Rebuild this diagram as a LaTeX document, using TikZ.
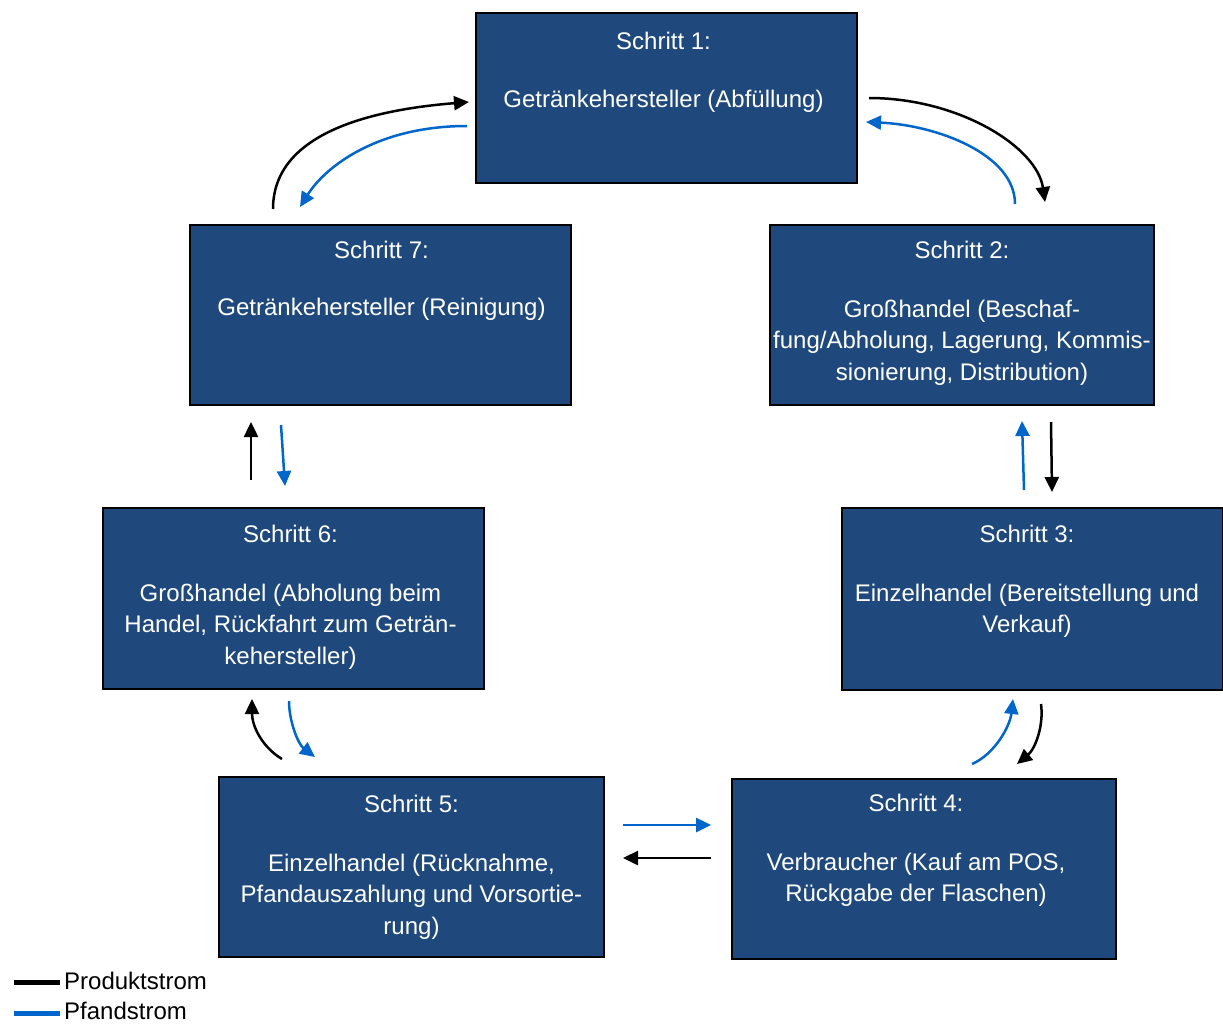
\documentclass[tikz,border=0pt]{standalone}
\usepackage{fontspec}
\setmainfont{Liberation Sans}
\usepackage{xcolor}
\usetikzlibrary{arrows.meta,positioning,calc}

\definecolor{boxblue}{RGB}{31,73,125}
\definecolor{pfandblue}{RGB}{0,102,204}

\begin{document}
\begin{tikzpicture}[
    x=1pt, y=-1pt,
    stepbox/.style={rectangle, draw=black, line width=2pt, fill=boxblue, inner sep=0pt},
    steptext/.style={align=center, text=white, inner sep=0pt, outer sep=0pt, font=\fontsize{24}{31.5}\selectfont},
    prod/.style={line width=2.5pt, draw=black, -{Triangle[length=15pt,width=14pt]}},
    pfand/.style={line width=2.5pt, draw=pfandblue, -{Triangle[length=15pt,width=14pt]}},
    legtext/.style={anchor=west, inner sep=0pt, font=\fontsize{24}{28}\selectfont}
  ]
    \useasboundingbox (0,0) rectangle (1223,1023);

    % Boxes
    \node[stepbox, minimum width=381pt, minimum height=170pt] (s1) at (666.5,98) {};
    \node[stepbox, minimum width=384pt, minimum height=180pt] (s2) at (962,315) {};
    \node[stepbox, minimum width=381pt, minimum height=182pt] (s3) at (1032,599) {};
    \node[stepbox, minimum width=384pt, minimum height=180pt] (s4) at (924,869) {};
    \node[stepbox, minimum width=385pt, minimum height=180pt] (s5) at (411.5,867) {};
    \node[stepbox, minimum width=381pt, minimum height=181pt] (s6) at (293.5,598.5) {};
    \node[stepbox, minimum width=381pt, minimum height=180pt] (s7) at (380.5,315) {};

    % Box texts
    \node[steptext, below=20pt of s1.north, xshift=-3pt] (t1) {Schritt 1:\\[26.5pt]Getränkehersteller (Abfüllung)};
    \node[steptext, below=17pt of s2.north] (t2) {Schritt 2:\\[27.5pt]Großhandel (Beschaf-\\fung/Abholung, Lagerung, Kommis-\\sionierung, Distribution)};
    \node[steptext, below=18pt of s3.north, xshift=-5pt] (t3) {Schritt 3:\\[27.5pt]Einzelhandel (Bereitstellung und\\Verkauf)};
    \node[steptext, below=16pt of s4.north, xshift=-8pt] (t4) {Schritt 4:\\[27.5pt]Verbraucher (Kauf am POS,\\Rückgabe der Flaschen)};
    \node[steptext, below=19pt of s5.north] (t5) {Schritt 5:\\[27.5pt]Einzelhandel (Rücknahme,\\Pfandauszahlung und Vorsortie-\\rung)};
    \node[steptext, below=18pt of s6.north, xshift=-3pt] (t6) {Schritt 6:\\[27.5pt]Großhandel (Abholung beim\\Handel, Rückfahrt zum Geträn-\\kehersteller)};
    \node[steptext, below=17pt of s7.north, xshift=1pt] (t7) {Schritt 7:\\[26pt]Getränkehersteller (Reinigung)};

    % Step 7 <-> Step 1
    \draw[prod] ($(s7.north)+(-107.5,-15)$) .. controls +(0,-75) and +(-100,8) .. ($(s1.west)+(-6,4)$);
    \draw[pfand] ($(s1.west)+(-8,28)$) .. controls +(-90,0) and +(25,-40) .. ($(s7.north)+(-80.5,-17)$);

    % Step 1 <-> Step 2
    \draw[prod] ($(s1.east)+(11,0)$) .. controls +(90,0) and +(-8,-55) .. ($(s2.north)+(83,-22)$);
    \draw[pfand] ($(s2.north)+(53,-20)$) .. controls +(0,-50) and +(70,3) .. ($(s1.east)+(8,24)$);

    % Step 2 <-> Step 3
    \draw[pfand] ($(s3.north)+(-8,-17)$) -- ($(s2.south)+(60,15)$);
    \draw[prod] ($(s2.south)+(89,16)$) -- ($(s3.north)+(20,-15)$);

    % Step 3 <-> Step 4
    \draw[pfand] ($(s4.north)+(48,-14)$) .. controls +(23,-10) and +(-3,27) .. ($(s3.south)+(-19,8)$);
    \draw[prod] ($(s3.south)+(9,13)$) .. controls +(3,22) and +(18,-15) .. ($(s4.north)+(93,-14)$);

    % Step 4 <-> Step 5
    \draw[pfand] ($(s5.east)+(18,-42)$) -- ($(s4.west)+(-20,-44)$);
    \draw[prod] ($(s4.west)+(-20,-11)$) -- ($(s5.east)+(18,-9)$);

    % Step 5 <-> Step 6
    \draw[prod] ($(s5.north)+(-129.5,-17)$) .. controls +(-20,-12) and +(0,27) .. ($(s6.south)+(-41.5,9)$);
    \draw[pfand] ($(s6.south)+(-4.5,11)$) .. controls +(0,20) and +(-17,-13) .. ($(s5.north)+(-96.5,-19)$);

    % Step 6 <-> Step 7
    \draw[prod] ($(s6.north)+(-42.5,-27)$) -- ($(s7.south)+(-129.5,16)$);
    \draw[pfand] ($(s7.south)+(-99.5,19)$) -- ($(s6.north)+(-8.5,-21)$);

    % Legend
    \node[legtext] (lp) at (64,981) {Produktstrom};
    \node[legtext] (lf) at (64,1011) {Pfandstrom};
    \draw[line width=5pt, black] ($(lp.west)+(-50,1)$) -- ($(lp.west)+(-4,1)$);
    \draw[line width=5pt, pfandblue] ($(lf.west)+(-50,2)$) -- ($(lf.west)+(-4,2)$);

  \end{tikzpicture}
\end{document}
